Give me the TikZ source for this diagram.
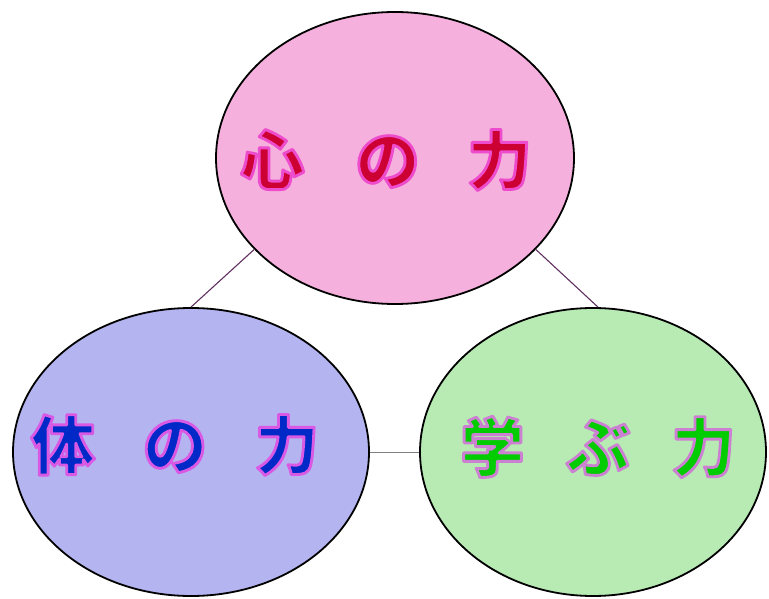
\documentclass[tikz,border=0pt]{standalone}
\usepackage{fontspec}
\newfontfamily\jpfont{Noto Sans CJK JP}[BoldFont={Noto Sans CJK JP Black},FakeBold=4.5]
\usepackage{xcolor}
\usepackage{tikz}
\usetikzlibrary{shapes,positioning,calc}

\definecolor{pinkfill}{RGB}{246,176,222}
\definecolor{bluefill}{RGB}{180,180,240}
\definecolor{greenfill}{RGB}{184,234,180}
\definecolor{linkline}{RGB}{96,48,96}

% fill colour, outline (glow) colour, text
\newcommand\glowword[3]{\special{pdf:bcolor [#1] [#2]}\special{pdf:literal direct 1 j 1 J}#3\special{pdf:ecolor}}

\begin{document}
\begin{tikzpicture}[x=1pt,y=1pt,
  circ/.style={ellipse,draw=black,line width=1.8pt},
  word/.style={font=\jpfont\bfseries\fontsize{64}{64}\selectfont},
  link/.style={draw=linkline,line width=1.1pt},
  flat/.style={draw=gray,line width=0.9pt}
]
  \useasboundingbox (0,0) rectangle (769,598);
  \node[circ,fill=pinkfill,minimum width=358pt,minimum height=292pt] (kokoro) at (395,440) {};
  \node[circ,fill=bluefill,minimum width=356pt,minimum height=288pt] (karada) at (191,146) {};
  \node[circ,fill=greenfill,minimum width=346pt,minimum height=288pt] (manabu) at (593,146) {};
  \node[word] (t1) at (386,438) {\glowword{0.8 0 0.2}{0.93 0.3 0.8}{心\hspace{0.8em}の\hspace{0.75em}力}};
  \node[word] (t2) at (175,153) {\glowword{0 0.16 0.78}{0.85 0.35 0.9}{体\hspace{0.75em}の\hspace{0.75em}力}};
  \node[word] (t3) at (598,151) {\glowword{0 0.8 0}{0.8 0.5 0.82}{学\hspace{0.65em}ぶ\hspace{0.65em}力}};
  \draw[link] (kokoro.213) -- (karada.north);
  \draw[link] (kokoro.327) -- (manabu.88);
  \draw[flat] (karada.east) -- (manabu.west);
\end{tikzpicture}
\end{document}
